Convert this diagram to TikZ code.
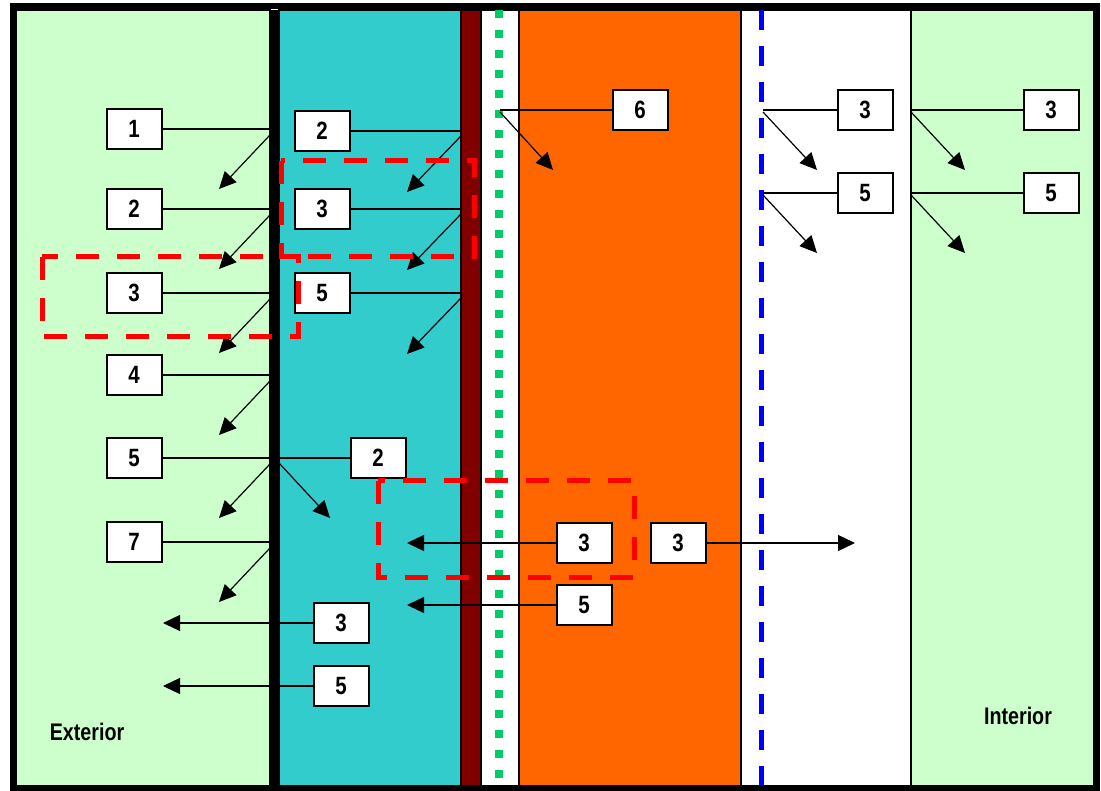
\documentclass[tikz,border=0pt]{standalone}
\usepackage{fontspec}
\setmainfont{Liberation Sans}[FakeStretch=0.82]
\usetikzlibrary{arrows.meta}

\definecolor{airgreen}{RGB}{204,255,204}
\definecolor{boardteal}{RGB}{51,204,204}
\definecolor{sheathred}{RGB}{128,0,0}
\definecolor{studorange}{RGB}{255,102,0}
\definecolor{wrapgreen}{RGB}{0,204,102}

\begin{document}
\begin{tikzpicture}[x=1pt,y=-1pt]
  \tikzset{tag/.style={draw,line width=2pt,fill=white,minimum width=55pt,minimum height=40pt,inner sep=0pt,font=\bfseries\fontsize{25}{25}\selectfont},
    lead/.style={line width=1.4pt},
    ray/.style={line width=1.2pt,-{Triangle[length=17pt,width=16pt]}},
    zone/.style={red,line width=5pt,dash pattern=on 23pt off 18pt},
    side/.style={font=\bfseries\fontsize{24}{24}\selectfont}}
  \useasboundingbox (0,0) rectangle (1101,791);

  % wall layers, outside to inside
  \filldraw[fill=airgreen,line width=1.2pt] (16,10) rectangle (270,788);
  \filldraw[fill=boardteal,line width=1.2pt] (279,10) rectangle (461,788);
  \filldraw[fill=sheathred,line width=1.5pt] (461,10) rectangle (481,788);
  \filldraw[fill=white,line width=1.2pt] (481,10) rectangle (519,788);
  \filldraw[fill=studorange,line width=1.2pt] (519,10) rectangle (741,788);
  \filldraw[fill=white,line width=1.2pt] (741,10) rectangle (911,788);
  \filldraw[fill=airgreen,line width=1.2pt] (911,10) rectangle (1094,788);
  \draw[line width=9pt] (274.5,10) -- (274.5,788);
  \draw[wrapgreen,line width=8pt,dash pattern=on 8pt off 12pt] (499,10) -- (499,788);
  \draw[blue,line width=5pt,dash pattern=on 20pt off 16pt] (761,10) -- (761,788);
  \draw[line width=6pt] (13,6.5) rectangle (1097,788);

  % exterior face of the cladding
  \foreach \k/\t/\y in {a/1/129,b/2/209,c/3/293,d/4/375,e/5/458,f/7/542}{
    \node[tag] (ext\k) at (134,\y) {\t};
    \coordinate (wall\k) at (270,\y);
    \coordinate (drop\k) at (219,\y+60);
    \draw[lead] (ext\k) -- (wall\k);
    \draw[ray] ([yshift=-6pt]wall\k) -- (drop\k);
  }

  % back of the cladding
  \node[tag] (back2) at (322,131) {2};
  \node[tag] (back3) at (322,209) {3};
  \node[tag] (back5) at (322,293) {5};
  \foreach \k/\y in {2/131,3/209,5/293}{
    \coordinate (sheath\k) at (461,\y);
    \coordinate (fall\k) at (407,\y+61);
    \draw[lead] (back\k) -- (sheath\k);
    \draw[ray] ([yshift=-5pt]sheath\k) -- (fall\k);
  }

  % cavity crossing
  \node[tag] (gap2) at (378,458) {2};
  \coordinate (inner) at (279,463);
  \coordinate (spill) at (330,518);
  \draw[lead] (exte) -- (gap2);
  \draw[ray] (inner) -- (spill);

  % drained back out to the exterior
  \node[tag] (out3) at (341,623) {3};
  \node[tag] (out5) at (341,686) {5};
  \coordinate (end3) at (163,623);
  \coordinate (end5) at (163,686);
  \draw[ray] (out3) -- (end3);
  \draw[ray] (out5) -- (end5);

  % across the sheathing
  \node[tag] (mid3) at (584,543) {3};
  \node[tag] (mid5) at (584,605) {5};
  \node[tag] (cross3) at (678,543) {3};
  \coordinate (back) at (407,543);
  \coordinate (back') at (407,605);
  \coordinate (into) at (855,543);
  \draw[ray] (mid3) -- (back);
  \draw[ray] (mid5) -- (back');
  \draw[ray] (cross3) -- (into);

  % weather barrier
  \node[tag] (wrap6) at (640,110) {6};
  \coordinate (wrap) at (500,110);
  \coordinate (soak) at (553,170);
  \draw[lead] (wrap6) -- (wrap);
  \draw[ray] ([yshift=-2pt]wrap) -- (soak);

  % vapour retarder and interior finish
  \foreach \k/\y in {3/110,5/193}{
    \node[tag] (vr\k) at (865,\y) {\k};
    \node[tag] (in\k) at (1051,\y) {\k};
    \coordinate (vrline\k) at (763,\y);
    \coordinate (inline\k) at (911,\y);
    \coordinate (vrtip\k) at (817,\y+60);
    \coordinate (intip\k) at (965,\y+60);
    \draw[lead] (vr\k) -- (vrline\k);
    \draw[lead] (in\k) -- (inline\k);
    \draw[ray] ([yshift=-2pt]vrline\k) -- (vrtip\k);
    \draw[ray] ([yshift=-2pt]inline\k) -- (intip\k);
  }

  \node[side] (exterior) at (87,732) {Exterior};
  \node[side] (interior) at (1018,716) {Interior};

  % critical zones
  \draw[zone] (281,161) rectangle (474,257);
  \draw[zone] (42,257) rectangle (298,337);
  \draw[zone] (378,481) rectangle (634,577);
\end{tikzpicture}
\end{document}
